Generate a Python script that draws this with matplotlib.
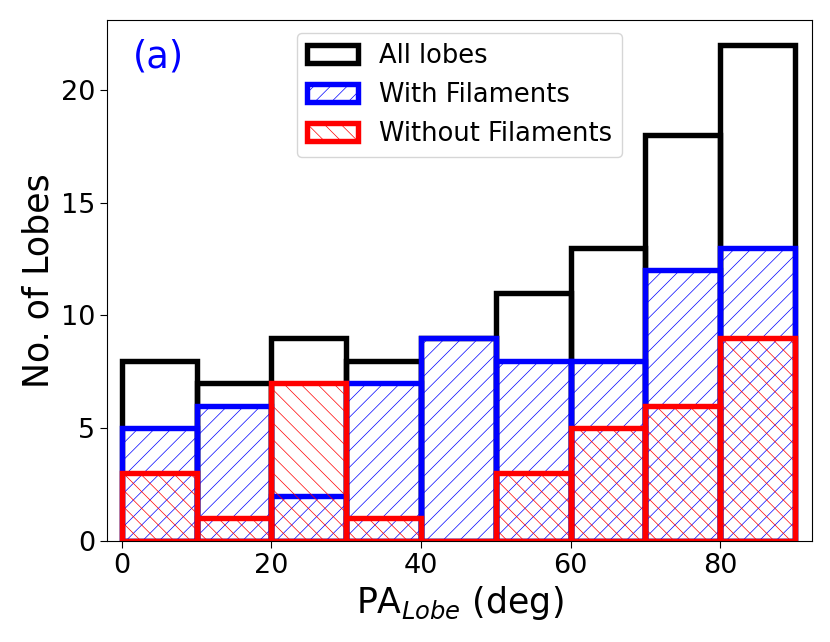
import matplotlib
matplotlib.use("Agg")
import matplotlib.pyplot as plt
import numpy as np

bin_edges = [0, 10, 20, 30, 40, 50, 60, 70, 80, 90]
all_lobes = [8, 7, 9, 8, 9, 11, 13, 18, 22]
with_fil = [5, 6, 2, 7, 9, 8, 8, 12, 13]
without_fil = [3, 1, 7, 1, 0, 3, 5, 6, 9]

plt.rcParams['hatch.linewidth'] = 0.5
fig = plt.figure(figsize=(8.3, 6.42), dpi=100)
ax = fig.add_axes([107/830, 1-541/642, (812-107)/830, (541-20)/642])

centers = [(a + b) / 2 for a, b in zip(bin_edges[:-1], bin_edges[1:])]
ax.hist(centers, bins=bin_edges, weights=all_lobes, histtype='bar', fill=False,
        lw=3.9, edgecolor='black', label='All lobes')
ax.hist(centers, bins=bin_edges, weights=with_fil, histtype='bar', fill=False,
        lw=3.9, edgecolor='blue', hatch='//', label='With Filaments')
ax.hist(centers, bins=bin_edges, weights=without_fil, histtype='bar', fill=False,
        lw=3.9, edgecolor='red', hatch='\\\\', label='Without Filaments')

ax.set_xlim(-2, 92.3)
ax.set_ylim(0, 23.1)
ax.set_xticks([0, 20, 40, 60, 80])
ax.set_yticks([0, 5, 10, 15, 20])
ax.tick_params(labelsize=19.5, length=5)
ax.set_xlabel(r'PA$_{Lobe}$ (deg)', fontsize=25)
ax.set_ylabel('No. of Lobes', fontsize=25)
ax.text(0.036, 0.965, '(a)', color='blue', fontsize=26.5, transform=ax.transAxes,
        va='top', ha='left')
ax.legend(loc='upper center', fontsize=18.5)

fig.savefig('out.png', dpi=100)
